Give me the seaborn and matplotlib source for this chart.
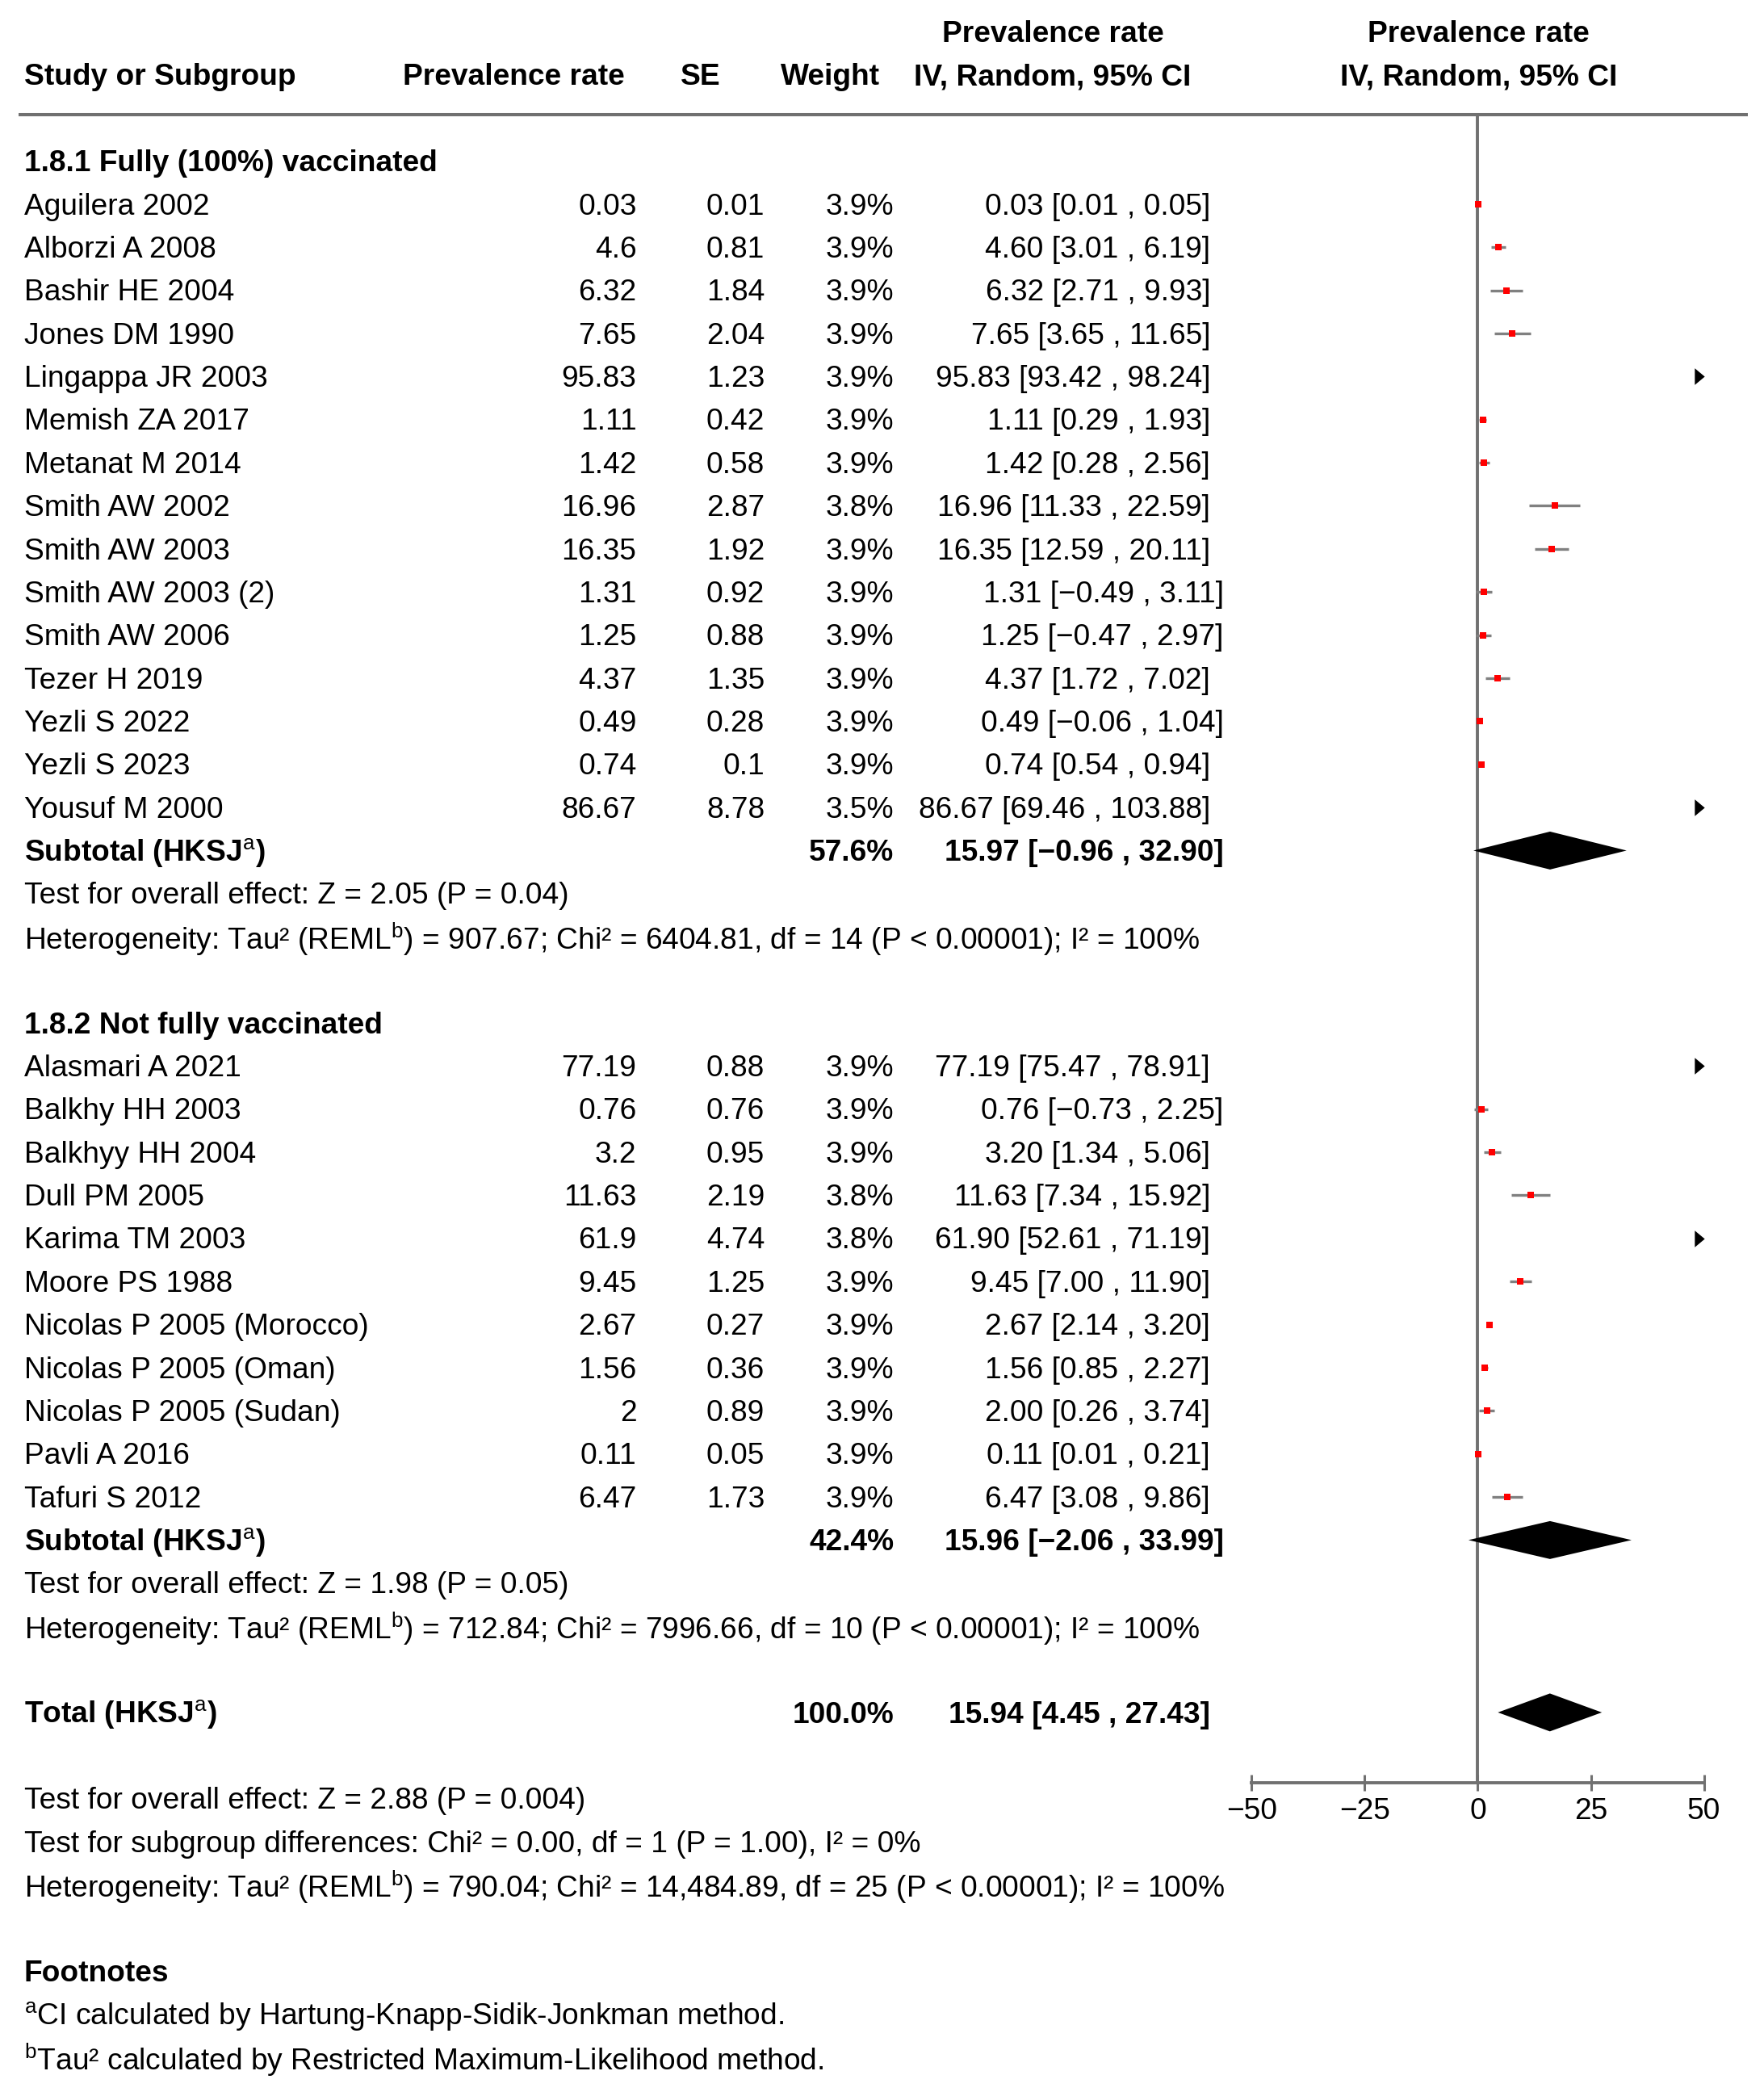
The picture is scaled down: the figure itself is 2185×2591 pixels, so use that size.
import matplotlib
matplotlib.use("Agg")
import matplotlib.pyplot as plt
import seaborn as sns
import pandas as pd
import numpy as np
from matplotlib.path import Path

# ---------------- data ----------------
studies1 = ["Aguilera 2002", "Alborzi A 2008", "Bashir HE 2004", "Jones DM 1990", "Lingappa JR 2003",
            "Memish ZA 2017", "Metanat M 2014", "Smith AW 2002", "Smith AW 2003", "Smith AW 2003 (2)",
            "Smith AW 2006", "Tezer H 2019", "Yezli S 2022", "Yezli S 2023", "Yousuf M 2000"]
rate1 = [0.03, 4.6, 6.32, 7.65, 95.83, 1.11, 1.42, 16.96, 16.35, 1.31, 1.25, 4.37, 0.49, 0.74, 86.67]
se1 = [0.01, 0.81, 1.84, 2.04, 1.23, 0.42, 0.58, 2.87, 1.92, 0.92, 0.88, 1.35, 0.28, 0.1, 8.78]
weight1 = [3.9, 3.9, 3.9, 3.9, 3.9, 3.9, 3.9, 3.8, 3.9, 3.9, 3.9, 3.9, 3.9, 3.9, 3.5]
lo1 = [0.01, 3.01, 2.71, 3.65, 93.42, 0.29, 0.28, 11.33, 12.59, -0.49, -0.47, 1.72, -0.06, 0.54, 69.46]
hi1 = [0.05, 6.19, 9.93, 11.65, 98.24, 1.93, 2.56, 22.59, 20.11, 3.11, 2.97, 7.02, 1.04, 0.94, 103.88]

studies2 = ["Alasmari A 2021", "Balkhy HH 2003", "Balkhyy HH 2004", "Dull PM 2005", "Karima TM 2003",
            "Moore PS 1988", "Nicolas P 2005 (Morocco)", "Nicolas P 2005 (Oman)", "Nicolas P 2005 (Sudan)",
            "Pavli A 2016", "Tafuri S 2012"]
rate2 = [77.19, 0.76, 3.2, 11.63, 61.9, 9.45, 2.67, 1.56, 2, 0.11, 6.47]
se2 = [0.88, 0.76, 0.95, 2.19, 4.74, 1.25, 0.27, 0.36, 0.89, 0.05, 1.73]
weight2 = [3.9, 3.9, 3.9, 3.8, 3.8, 3.9, 3.9, 3.9, 3.9, 3.9, 3.9]
lo2 = [75.47, -0.73, 1.34, 7.34, 52.61, 7.00, 2.14, 0.85, 0.26, 0.01, 3.08]
hi2 = [78.91, 2.25, 5.06, 15.92, 71.19, 11.90, 3.20, 2.27, 3.74, 0.21, 9.86]

subgroup_titles = ["1.8.1 Fully (100%) vaccinated", "1.8.2 Not fully vaccinated"]
sub_est = [15.97, 15.96]
sub_lo = [-0.96, -2.06]
sub_hi = [32.90, 33.99]
sub_weight = [57.6, 42.4]
sub_tests = ["Test for overall effect: Z = 2.05 (P = 0.04)",
             "Test for overall effect: Z = 1.98 (P = 0.05)"]
sub_het = [r"Heterogeneity: Tau² (REML$^{\mathrm{b}}$) = 907.67; Chi² = 6404.81, df = 14 (P < 0.00001); I² = 100%",
           r"Heterogeneity: Tau² (REML$^{\mathrm{b}}$) = 712.84; Chi² = 7996.66, df = 10 (P < 0.00001); I² = 100%"]
total_est, total_lo, total_hi, total_weight = 15.94, 4.45, 27.43, 100.0
total_lines = ["Test for overall effect: Z = 2.88 (P = 0.004)",
               "Test for subgroup differences: Chi² = 0.00, df = 1 (P = 1.00), I² = 0%",
               r"Heterogeneity: Tau² (REML$^{\mathrm{b}}$) = 790.04; Chi² = 14,484.89, df = 25 (P < 0.00001); I² = 100%"]
footnotes = [r"$^{\mathrm{a}}$CI calculated by Hartung-Knapp-Sidik-Jonkman method.",
             r"$^{\mathrm{b}}$Tau² calculated by Restricted Maximum-Likelihood method."]
x_ticks = [-50, -25, 0, 25, 50]

# ---------------- style ----------------
sns.set_theme(style="white")
plt.rcParams["font.family"] = ["Liberation Sans", "DejaVu Sans"]
plt.rcParams["mathtext.fontset"] = "custom"
plt.rcParams["mathtext.rm"] = "Liberation Sans"
plt.rcParams["mathtext.bf"] = "Liberation Sans:bold"
plt.rcParams["axes.unicode_minus"] = True

FS = 26.7
GRAY = "#707070"
CIGRAY = "#808080"
DY = 0.06                  # small downward text shift (row units)

W, H = 1322, 1568          # layout units (reference pixel grid, shrunk)
Y0, PITCH = 153, 32.3      # first study row, row pitch

fig = plt.figure(figsize=(21.85, 25.91), dpi=100)
main = fig.add_axes([0, 0, 1, 1])
main.set_xlim(0, W)
main.set_ylim((H - Y0) / PITCH, (0 - Y0) / PITCH)
main.axis("off")

top_k = (86 - Y0) / PITCH
bot_k = (1336 - Y0) / PITCH
fa = fig.add_axes([938 / W, (H - 1336) / H, 339 / W, (1336 - 86) / H])
fa.set_xlim(-50, 50)
fa.set_ylim(bot_k, top_k)
fa.patch.set_alpha(0)


def txt(x, k, s, ha="left", bold=False, **kw):
    main.text(x, k + DY, s, ha=ha, va="center", fontsize=FS,
              fontweight="bold" if bold else "normal", color="black", **kw)


def fmt_ci(e, lo, hi):
    s = f"{e:.2f} [{lo:.2f} , {hi:.2f}]"
    return s.replace("-", "\u2212")


def ci_x(s):
    return 917 if "\u2212" in s else 907


X_NAME, X_RATE, X_SE, X_W = 18, 477, 573, 670

# header
txt(X_NAME, -3, "Study or Subgroup", bold=True)
txt(385, -3, "Prevalence rate", ha="center", bold=True)
txt(525, -3, "SE", ha="center", bold=True)
txt(622, -3, "Weight", ha="center", bold=True)
txt(789, -4, "Prevalence rate", ha="center", bold=True)
txt(789, -3, "IV, Random, 95% CI", ha="center", bold=True)
txt(1108, -4, "Prevalence rate", ha="center", bold=True)
txt(1108, -3, "IV, Random, 95% CI", ha="center", bold=True)
main.plot([14, 1310], [top_k, top_k], color=GRAY, lw=2.9, solid_capstyle="butt")

# build per-study table
groups = [(studies1, rate1, se1, weight1, lo1, hi1), (studies2, rate2, se2, weight2, lo2, hi2)]
start_rows = [0, 20]
rows = []
for gi, (names, rates, ses, ws, los, his) in enumerate(groups):
    k0 = start_rows[gi]
    txt(X_NAME, k0 - 1, subgroup_titles[gi], bold=True)
    for i in range(len(names)):
        rows.append(dict(name=names[i], rate=rates[i], se=ses[i], w=ws[i], lo=los[i], hi=his[i], k=k0 + i))
    ks = k0 + len(names)
    txt(X_NAME, ks, r"Subtotal (HKSJ$^{\mathrm{a}}$)", bold=True)
    txt(X_W, ks, f"{sub_weight[gi]:.1f}%", ha="right", bold=True)
    s = fmt_ci(sub_est[gi], sub_lo[gi], sub_hi[gi])
    txt(ci_x(s), ks, s, ha="right", bold=True)
    txt(X_NAME, ks + 1, sub_tests[gi])
    txt(X_NAME, ks + 2, sub_het[gi])
    # diamond
    fa.fill([sub_lo[gi], sub_est[gi], sub_hi[gi], sub_est[gi]], [ks, ks - 0.44, ks, ks + 0.44],
            color="black", lw=0, clip_on=False, zorder=4)

df = pd.DataFrame(rows)
for _, r in df.iterrows():
    txt(X_NAME, r.k, r["name"])
    txt(X_RATE, r.k, f"{r.rate:g}", ha="right")
    txt(X_SE, r.k, f"{r.se:g}", ha="right")
    txt(X_W, r.k, f"{r.w:.1f}%", ha="right")
    s = fmt_ci(r.rate, r.lo, r.hi)
    txt(ci_x(s), r.k, s, ha="right")

# total
kt = 35
txt(X_NAME, kt, r"Total (HKSJ$^{\mathrm{a}}$)", bold=True)
txt(X_W, kt, f"{total_weight:.1f}%", ha="right", bold=True)
s = fmt_ci(total_est, total_lo, total_hi)
txt(ci_x(s), kt, s, ha="right", bold=True)
fa.fill([total_lo, total_est, total_hi, total_est], [kt, kt - 0.44, kt, kt + 0.44],
        color="black", lw=0, zorder=4)
for j, line in enumerate(total_lines):
    txt(X_NAME, 37 + j, line)
txt(X_NAME, 41, "Footnotes", bold=True)
for j, line in enumerate(footnotes):
    txt(X_NAME, 42 + j, line)

# forest plot
xmin, xmax = fa.get_xlim()
fa.axvline(0, color=GRAY, lw=2.8, zorder=1)
inside = df[(df.rate >= xmin) & (df.rate <= xmax)]
outside = df[df.rate > xmax]
fa.hlines(inside.k, np.clip(inside.lo, xmin, xmax), np.clip(inside.hi, xmin, xmax),
          color=CIGRAY, lw=2.4, zorder=2)
sns.scatterplot(data=inside, x="rate", y="k", marker="s", color="#ff0000", s=30,
                linewidth=0, ax=fa, zorder=3, legend=False)
arrow = Path([(-0.3, -0.5), (0.3, 0), (-0.3, 0.5), (-0.3, -0.5)],
             [Path.MOVETO, Path.LINETO, Path.LINETO, Path.CLOSEPOLY])
fa.scatter(np.full(len(outside), xmax - 1), outside.k, marker=arrow, s=220, color="black",
           linewidths=0, zorder=3, clip_on=False)

fa.set_xlabel("")
fa.set_ylabel("")
fa.set_yticks([])
fa.set_xticks(x_ticks)
fa.set_xticklabels([f"{v}".replace("-", "\u2212") for v in x_ticks])
for sp in ["top", "right", "left"]:
    fa.spines[sp].set_visible(False)
fa.spines["bottom"].set_color(GRAY)
fa.spines["bottom"].set_linewidth(2.8)
fa.tick_params(axis="x", direction="inout", length=14, width=2.2, color=GRAY,
               labelsize=FS, labelcolor="black", pad=6, bottom=True)

fig.savefig("out.png", dpi=100, facecolor="white")
